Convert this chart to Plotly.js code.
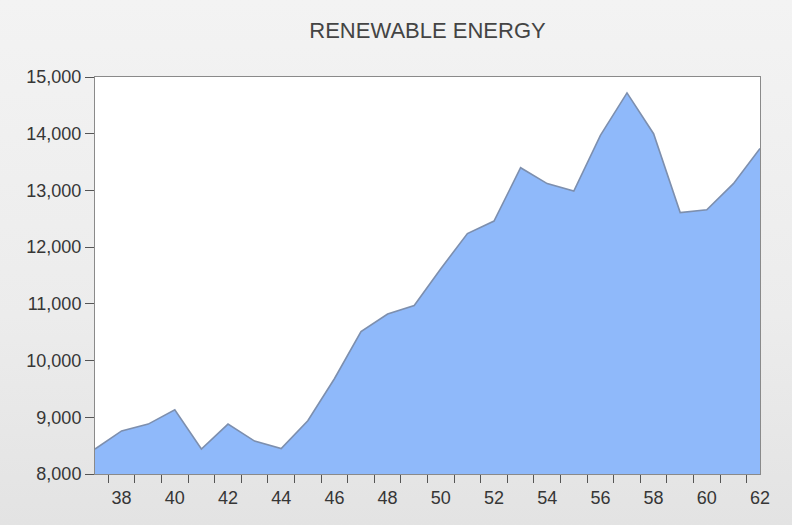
<!DOCTYPE html>
<html>
<head>
<meta charset="utf-8">
<script src="https://cdn.plot.ly/plotly-3.0.1.min.js"></script>
<style>
html,body{margin:0;padding:0;}
body{width:792px;height:525px;background:linear-gradient(to bottom,#f3f3f3 0%,#ececec 60%,#e3e3e3 100%);}
#chart{width:792px;height:525px;}
</style>
</head>
<body>
<div id="chart"></div>
<script>
var years = [37,38,39,40,41,42,43,44,45,46,47,48,49,50,51,52,53,54,55,56,57,58,59,60,61,62];
var energy = [8440,8760,8880,9130,8440,8880,8580,8450,8940,9680,10510,10820,10970,11620,12240,12460,13400,13120,12990,13970,14720,14000,12610,12660,13120,13740];
var labelYears = [38,40,42,44,46,48,50,52,54,56,58,60,62];
var yTicks = [8000,9000,10000,11000,12000,13000,14000,15000];
var chartTitle = 'RENEWABLE ENERGY';

var halfYears = years.slice(1).map(function(y){return y-0.5;});

var trace = {
  x: years,
  y: energy,
  type: 'scatter',
  mode: 'lines',
  fill: 'tozeroy',
  fillcolor: '#8fb9fa',
  line: {color: '#7d8fae', width: 1.6},
  hoverinfo: 'x+y'
};

var layout = {
  width: 792,
  height: 525,
  paper_bgcolor: 'rgba(0,0,0,0)',
  plot_bgcolor: '#ffffff',
  margin: {l: 95, r: 32, t: 77, b: 51, pad: 0},
  showlegend: false,
  font: {family: '"Liberation Sans", Arial, sans-serif', color: '#363636', size: 18},
  title: {
    text: chartTitle,
    x: 0.5,
    xref: 'paper',
    y: 0.943,
    yref: 'container',
    yanchor: 'middle',
    font: {family: '"Liberation Sans", Arial, sans-serif', size: 22, color: '#444444'}
  },
  xaxis: {
    range: [37, 62],
    tickmode: 'array',
    tickvals: labelYears,
    ticktext: labelYears.map(String),
    ticks: '',
    showgrid: false,
    zeroline: false,
    showline: true,
    mirror: true,
    linecolor: '#8a8a8a',
    linewidth: 1,
    tickfont: {size: 18, color: '#363636'},
    ticklabelstandoff: 7,
    minor: {
      tickmode: 'array',
      tickvals: halfYears,
      ticks: 'outside',
      ticklen: 8,
      tickcolor: '#555555',
      tickwidth: 1,
      showgrid: false
    }
  },
  yaxis: {
    range: [8000, 15000],
    tickmode: 'array',
    tickvals: yTicks,
    tickformat: ',d',
    ticks: 'outside',
    ticklen: 9,
    tickcolor: '#555555',
    showgrid: false,
    zeroline: false,
    showline: true,
    mirror: true,
    linecolor: '#8a8a8a',
    linewidth: 1,
    tickfont: {size: 18, color: '#363636'}
  }
};

Plotly.newPlot('chart', [trace], layout, {displayModeBar: false, staticPlot: true});
</script>
</body>
</html>
